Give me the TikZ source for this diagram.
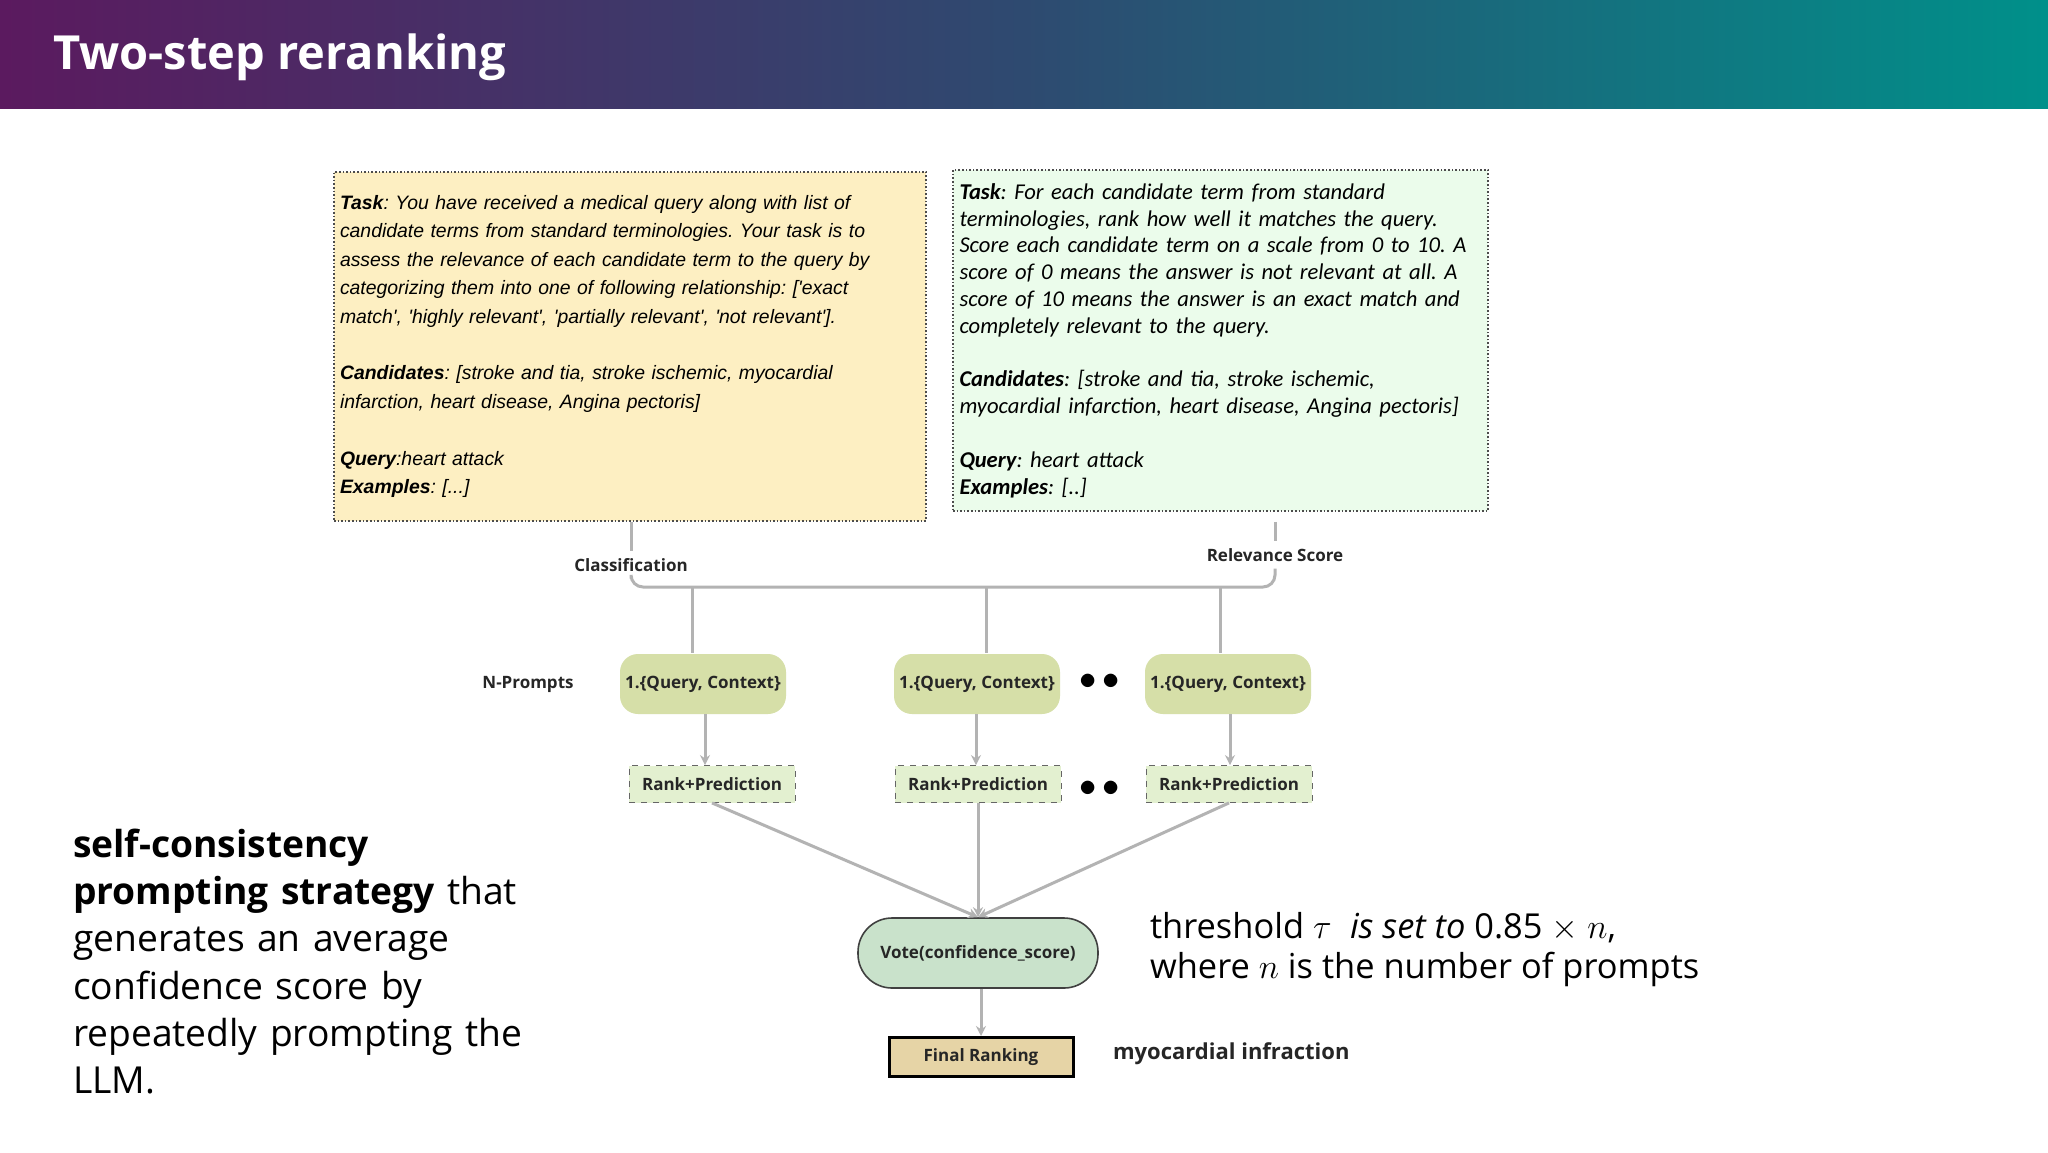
\documentclass[tikz,border=0pt]{standalone}
\usepackage{fontspec}
\setmainfont{Open Sans}
\newfontfamily\arialf{Liberation Sans}
\newfontfamily\calib{Carlito}
\usetikzlibrary{arrows.meta}
\frenchspacing
\definecolor{hdrA}{HTML}{5B1A5F}
\definecolor{hdrB}{HTML}{2E4A70}
\definecolor{hdrC}{HTML}{00908A}
\definecolor{ybox}{HTML}{FDEFC2}
\definecolor{gbox}{HTML}{EBFCEB}
\definecolor{pfill}{HTML}{D6DFA8}
\definecolor{rfill}{HTML}{E3F0D0}
\definecolor{vfill}{HTML}{C9E2CB}
\definecolor{ffill}{HTML}{E6D4A6}
\definecolor{conn}{HTML}{B3B3B3}
\begin{document}
\frenchspacing
\begin{tikzpicture}[x=0.5pt,y=-0.5pt,
  lbl/.style={font=\fontsize{8.5}{10}\selectfont\bfseries, text=black!85},
  prompt/.style={lbl, fill=pfill, rounded corners=9pt, minimum width=83pt, minimum height=30pt, inner sep=1pt},
  rank/.style={lbl, fill=rfill, draw=black!60, dashed, minimum width=83pt, minimum height=18.5pt, inner sep=1pt},
  ln/.style={conn, line width=1.5pt},
  arr/.style={ln, -{Stealth[length=5pt,width=5pt]}},
  dots/.style={font=\fontsize{16}{16}\selectfont},
]
\useasboundingbox (0,0) rectangle (2048,1152);
\fill[white] (0,0) rectangle (2048,1152);
% header
\shade[left color=hdrA, right color=hdrB] (0,0) rectangle (1024,108);
\shade[left color=hdrB, right color=hdrC] (1023,0) rectangle (2048,108);
\node[anchor=west, text=white, font=\fontsize{23.5}{26}\selectfont\bfseries] (title) at (46,57) {Two-step reranking};

% prompt boxes
\node[draw=black!70, densely dotted, line width=0.8pt, fill=ybox, minimum width=283pt, minimum height=174.5pt, text width=290pt, align=left, inner sep=3pt,
  font=\arialf\itshape\fontsize{9.7}{14.2}\selectfont] (cls) at (630,346.5)
{\textbf{Task}: You have received a medical query along with list of\\
candidate terms from standard terminologies. Your task is to\\
assess the relevance of each candidate term to the query by\\
categorizing them into one of following relationship: ['exact\\
match', 'highly relevant', 'partially relevant', 'not relevant'].\\[14.2pt]
\textbf{Candidates}: [stroke and tia, stroke ischemic, myocardial\\
infarction, heart disease, Angina pectoris]\\[14.2pt]
\textbf{Query}:heart attack\\
\textbf{Examples}: [...]};
\node[draw=black!70, densely dotted, line width=0.8pt, fill=gbox, minimum width=267.5pt, minimum height=170.5pt, text width=261pt, align=left, inner sep=3pt,
  font=\calib\itshape\fontsize{11.3}{13.4}\selectfont] (rel) at (1220.5,340.5)
{\textbf{Task}: For each candidate term from standard\\
terminologies, rank how well it matches the query.\\
Score each candidate term on a scale from 0 to 10. A\\
score of 0 means the answer is not relevant at all. A\\
score of 10 means the answer is an exact match and\\
completely relevant to the query.\\[13.4pt]
\textbf{Candidates}: [stroke and tia, stroke ischemic,\\
myocardial infarction, heart disease, Angina pectoris]\\[13.4pt]
\textbf{Query}: heart attack\\
\textbf{Examples}: [..]};

\node[lbl] (clab) at (631,565) {Classification};
\node[lbl] (rlab) at (1275,555) {Relevance Score};
\coordinate (hL) at (631,587);
\coordinate (hR) at (1275,587);
\draw[ln] (cls.south -| clab) -- (clab.north);
\draw[ln] (rel.south -| rlab) ++(0,10) -- (rlab.north);
\draw[ln, rounded corners=6pt] (clab.south) -- (hL) -- (hR) -- (rlab.south);

% prompts
\node[prompt] (p1) at (703,684) {1.\{Query, Context\}};
\node[prompt] (p2) at (977,684) {1.\{Query, Context\}};
\node[prompt] (p3) at (1228,684) {1.\{Query, Context\}};
\node[dots] (d1) at (1100,682) {$\bullet\,\bullet$};
\node[lbl] (np) at (528,684) {N-Prompts};
\draw[ln] (692,587) -- (692,653);
\draw[ln] (986,587) -- (986,653);
\draw[ln] (1220,587) -- (1220,653);

\node[rank] (r1) at (712,784) {Rank+Prediction};
\node[rank] (r2) at (978,784) {Rank+Prediction};
\node[rank] (r3) at (1229,784) {Rank+Prediction};
\node[dots] (d2) at (1100,789) {$\bullet\,\bullet$};
\draw[arr] (p1.south -| 705,0) -- (r1.north -| 705,0);
\draw[arr] (p2.south -| 976,0) -- (r2.north -| 976,0);
\draw[arr] (p3.south -| 1230,0) -- (r3.north -| 1230,0);

\node[lbl, fill=vfill, draw=black!75, line width=0.8pt, rounded corners=17pt, minimum width=120pt, minimum height=35pt] (vote) at (978,953) {Vote(confidence\_score)};
\draw[arr] (r1.south) -- (vote.north);
\draw[arr] (r2.south) -- (vote.north);
\draw[arr] (r3.south) -- (vote.north);

\node[lbl, fill=ffill, draw=black, line width=1.5pt, minimum width=92pt, minimum height=19.5pt] (fin) at (981,1057) {Final Ranking};
\draw[arr] (vote.south -| fin) -- (fin.north);
\node[anchor=west, font=\fontsize{11}{13}\selectfont\bfseries, text=black!85] (mi) at (1106,1054) {myocardial infraction};

% texts
\node[anchor=west, align=left, font=\fontsize{17.2}{20}\selectfont] (thr) at (1143,950)
{threshold $\tau$\; \textit{is set to} 0.85 $\times$ $n$,\\[0pt] where $n$ is the number of prompts};
\node[anchor=north west, align=left, text width=300pt, font=\fontsize{18.6}{23.6}\selectfont] (sc) at (66,822)
{\textbf{self-consistency}\\ \textbf{prompting strategy} that\\ generates an average\\ confidence score by\\ repeatedly prompting the\\ LLM.};
\end{tikzpicture}
\end{document}
